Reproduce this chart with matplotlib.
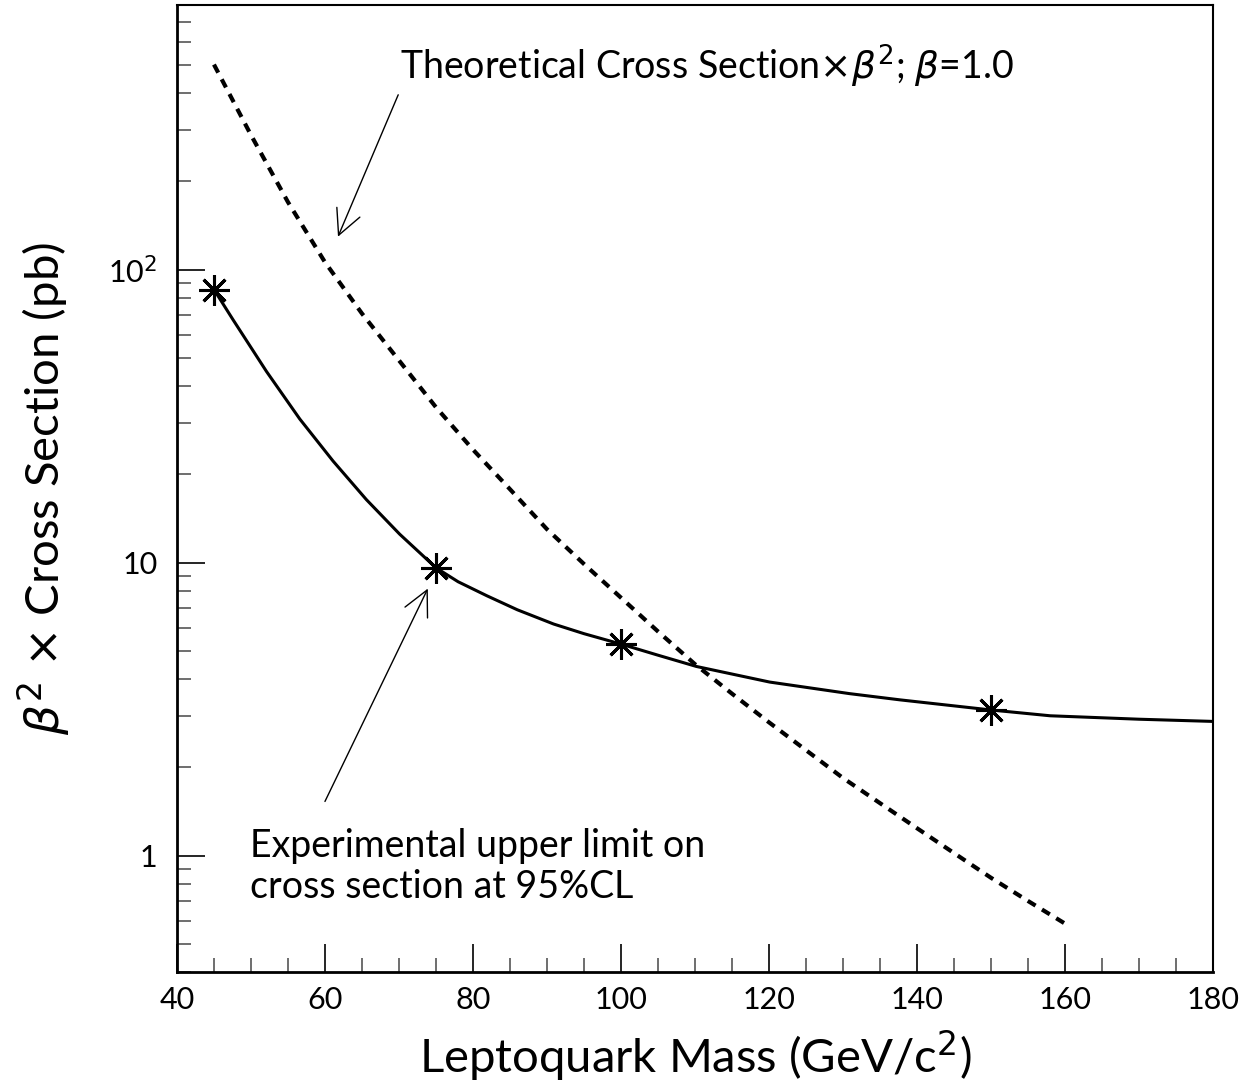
import matplotlib
matplotlib.use('Agg')
import matplotlib.pyplot as plt
import numpy as np
from matplotlib.ticker import FixedLocator, FixedFormatter, MultipleLocator, NullFormatter

plt.rcParams['font.family'] = ['Lato', 'DejaVu Sans']
plt.rcParams['mathtext.fontset'] = 'dejavusans'

# theoretical cross section x beta^2 (dashed)
theory_mass = [45, 50, 55, 60, 65, 70, 75, 80, 85, 90, 95, 100, 105, 110,
               115, 120, 125, 130, 135, 140, 145, 150, 155, 160]
theory_xsec = [501, 288, 170, 106, 70.8, 49.0, 33.9, 24.3, 17.8, 13.0, 9.89, 7.59, 5.82, 4.50,
               3.57, 2.85, 2.29, 1.84, 1.51, 1.24, 1.02, 0.84, 0.70, 0.586]

# experimental limit curve (solid)
limit_mass = [45, 47.6, 52.1, 56.6, 61.1, 65.6, 70.1, 75, 78, 81.9, 86, 90.9, 95, 100,
              105, 110.2, 120.1, 130.9, 137.7, 150, 158, 170, 180]
limit_xsec = [85.5, 67.3, 44.9, 30.9, 22.2, 16.4, 12.5, 9.6, 8.6, 7.7, 6.9, 6.17, 5.72, 5.27,
              4.83, 4.42, 3.91, 3.57, 3.40, 3.14, 3.0, 2.92, 2.87]

# measured points
point_mass = [45, 75, 100, 150]
point_xsec = [85.5, 9.6, 5.27, 3.14]

fig = plt.figure(figsize=(12.55, 10.85), dpi=100)
ax = fig.add_axes([0.141, 0.104, 0.8255, 0.8914])

ax.plot(theory_mass, theory_xsec, color='black', lw=3, linestyle=(0, (2.2, 1.8)))
ax.plot(limit_mass, limit_xsec, color='black', lw=2.2)
ax.plot(point_mass, point_xsec, linestyle='none', marker=(8, 2, 0), ms=22, mew=2.2, color='black')

ax.set_yscale('log')
ax.set_xlim(40, 180)
ax.set_ylim(0.4, 800)

ax.xaxis.set_major_locator(MultipleLocator(20))
ax.xaxis.set_minor_locator(MultipleLocator(5))
ax.yaxis.set_major_locator(FixedLocator([1, 10, 100]))
ax.yaxis.set_major_formatter(FixedFormatter(['1', '10', '10$^{2}$']))
ax.yaxis.set_minor_formatter(NullFormatter())

ax.tick_params(which='both', direction='in', top=False, right=False, labelsize=22)
ax.tick_params(which='major', length=20, width=1.2)
ax.tick_params(which='minor', length=10, width=1.2, color='#555555')
ax.tick_params(axis='x', pad=10)
ax.tick_params(axis='y', pad=14)

for side in ['left', 'bottom']:
    ax.spines[side].set_linewidth(2)
for side in ['top', 'right']:
    ax.spines[side].set_linewidth(1.5)

ax.set_xlabel('Leptoquark Mass (GeV/c$^{2}$)', fontsize=34, labelpad=10)
ax.set_ylabel(r'$\beta^{2}$ $\times$ Cross Section (pb)', fontsize=34, labelpad=26)

ax.text(70.1, 492, r'Theoretical Cross Section$\times\beta^{2}$; $\beta$=1.0',
        fontsize=27, va='center', ha='left')
ax.annotate('', xy=(61.76, 129.5), xytext=(69.9, 395),
            arrowprops=dict(arrowstyle='->', lw=1, color='black', mutation_scale=45,
                            shrinkA=0, shrinkB=0))
ax.annotate('', xy=(73.9, 8.15), xytext=(60.0, 1.53),
            arrowprops=dict(arrowstyle='->', lw=1, color='black', mutation_scale=45,
                            shrinkA=0, shrinkB=0))
ax.text(49.9, 1.24, 'Experimental upper limit on\ncross section at 95%CL', fontsize=27,
        va='top', ha='left', linespacing=1.15)

plt.savefig('out.png')
